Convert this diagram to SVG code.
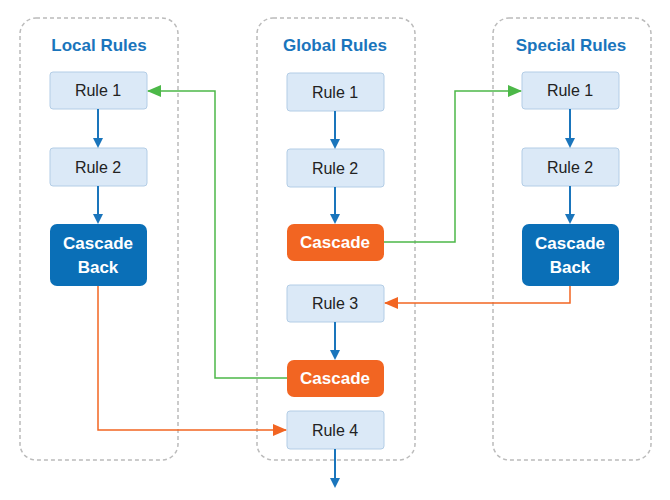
<svg xmlns="http://www.w3.org/2000/svg" width="670" height="500" viewBox="0 0 670 500">
<style>
.c{fill:none;stroke:#bbb;stroke-width:1.5;stroke-dasharray:4 3}
.t{font-family:"Liberation Sans",Arial,sans-serif;font-weight:bold;font-size:17px;fill:#1a75bc;text-anchor:middle}
.r{fill:#dbe9f7;stroke:#b3cde6;stroke-width:1}
.rt{font-family:"Liberation Sans",Arial,sans-serif;font-size:16px;fill:#222;text-anchor:middle}
.d{fill:#0a6fb7}
.o{fill:#f26522}
.wt{font-family:"Liberation Sans",Arial,sans-serif;font-weight:bold;font-size:17px;fill:#fff;text-anchor:middle}
.b{stroke:#1a75bc;stroke-width:2;fill:none}
.g{stroke:#4cb848;stroke-width:1.5;fill:none}
.or{stroke:#f26522;stroke-width:1.5;fill:none}
</style>
<defs>
<marker id="mb" markerWidth="10" markerHeight="10" refX="8" refY="5" orient="auto" markerUnits="userSpaceOnUse"><path d="M0,0 L10,5 L0,10z" fill="#1a75bc"/></marker>
<marker id="mg" markerWidth="14" markerHeight="12" refX="13" refY="6" orient="auto" markerUnits="userSpaceOnUse"><path d="M0,0 L14,6 L0,12z" fill="#4cb848"/></marker>
<marker id="mo" markerWidth="14" markerHeight="12" refX="13" refY="6" orient="auto" markerUnits="userSpaceOnUse"><path d="M0,0 L14,6 L0,12z" fill="#f26522"/></marker>
</defs>
<g id="local"><rect class="c" x="20" y="18" width="158" height="442" rx="16"/><text class="t" x="99" y="51">Local Rules</text></g>
<g id="global"><rect class="c" x="257" y="18" width="158" height="442" rx="16"/><text class="t" x="335" y="51">Global Rules</text></g>
<g id="special"><rect class="c" x="493" y="18" width="158" height="442" rx="16"/><text class="t" x="571" y="51">Special Rules</text></g>
<g id="l1"><rect class="r" x="50" y="72" width="97" height="37" rx="3"/><text class="rt" x="98" y="96">Rule 1</text></g>
<g id="l2"><rect class="r" x="50" y="148" width="97" height="38" rx="3"/><text class="rt" x="98" y="173">Rule 2</text></g>
<g id="lc"><rect class="d" x="50" y="224" width="97" height="62" rx="7"/><text class="wt" x="98" y="249">Cascade</text><text class="wt" x="98" y="273">Back</text></g>
<g id="g1"><rect class="r" x="287" y="73" width="97" height="38" rx="3"/><text class="rt" x="335" y="98">Rule 1</text></g>
<g id="g2"><rect class="r" x="287" y="149" width="97" height="38" rx="3"/><text class="rt" x="335" y="174">Rule 2</text></g>
<g id="gc1"><rect class="o" x="287" y="224" width="97" height="37" rx="7"/><text class="wt" x="335" y="248">Cascade</text></g>
<g id="g3"><rect class="r" x="287" y="285" width="97" height="37" rx="3"/><text class="rt" x="335" y="309">Rule 3</text></g>
<g id="gc2"><rect class="o" x="287" y="360" width="97" height="37" rx="7"/><text class="wt" x="335" y="384">Cascade</text></g>
<g id="g4"><rect class="r" x="287" y="411" width="97" height="38" rx="3"/><text class="rt" x="335" y="436">Rule 4</text></g>
<g id="s1"><rect class="r" x="522" y="72" width="97" height="37" rx="3"/><text class="rt" x="570" y="96">Rule 1</text></g>
<g id="s2"><rect class="r" x="522" y="148" width="97" height="38" rx="3"/><text class="rt" x="570" y="173">Rule 2</text></g>
<g id="sc"><rect class="d" x="522" y="224" width="97" height="62" rx="7"/><text class="wt" x="570" y="249">Cascade</text><text class="wt" x="570" y="273">Back</text></g>
<g id="connectors">
<path class="b" d="M98,109 V146" marker-end="url(#mb)"/>
<path class="b" d="M98,186 V222" marker-end="url(#mb)"/>
<path class="b" d="M335,111 V147" marker-end="url(#mb)"/>
<path class="b" d="M335,187 V222" marker-end="url(#mb)"/>
<path class="b" d="M335,322 V358" marker-end="url(#mb)"/>
<path class="b" d="M335,449 V486" marker-end="url(#mb)"/>
<path class="b" d="M570,109 V146" marker-end="url(#mb)"/>
<path class="b" d="M570,186 V222" marker-end="url(#mb)"/>
<path class="g" d="M287,378 H215 V91 H148" marker-end="url(#mg)"/>
<path class="g" d="M384,242 H455 V91 H521" marker-end="url(#mg)"/>
<path class="or" d="M570,286 V303 H385" marker-end="url(#mo)"/>
<path class="or" d="M98,286 V430 H286" marker-end="url(#mo)"/>
</g>
</svg>
